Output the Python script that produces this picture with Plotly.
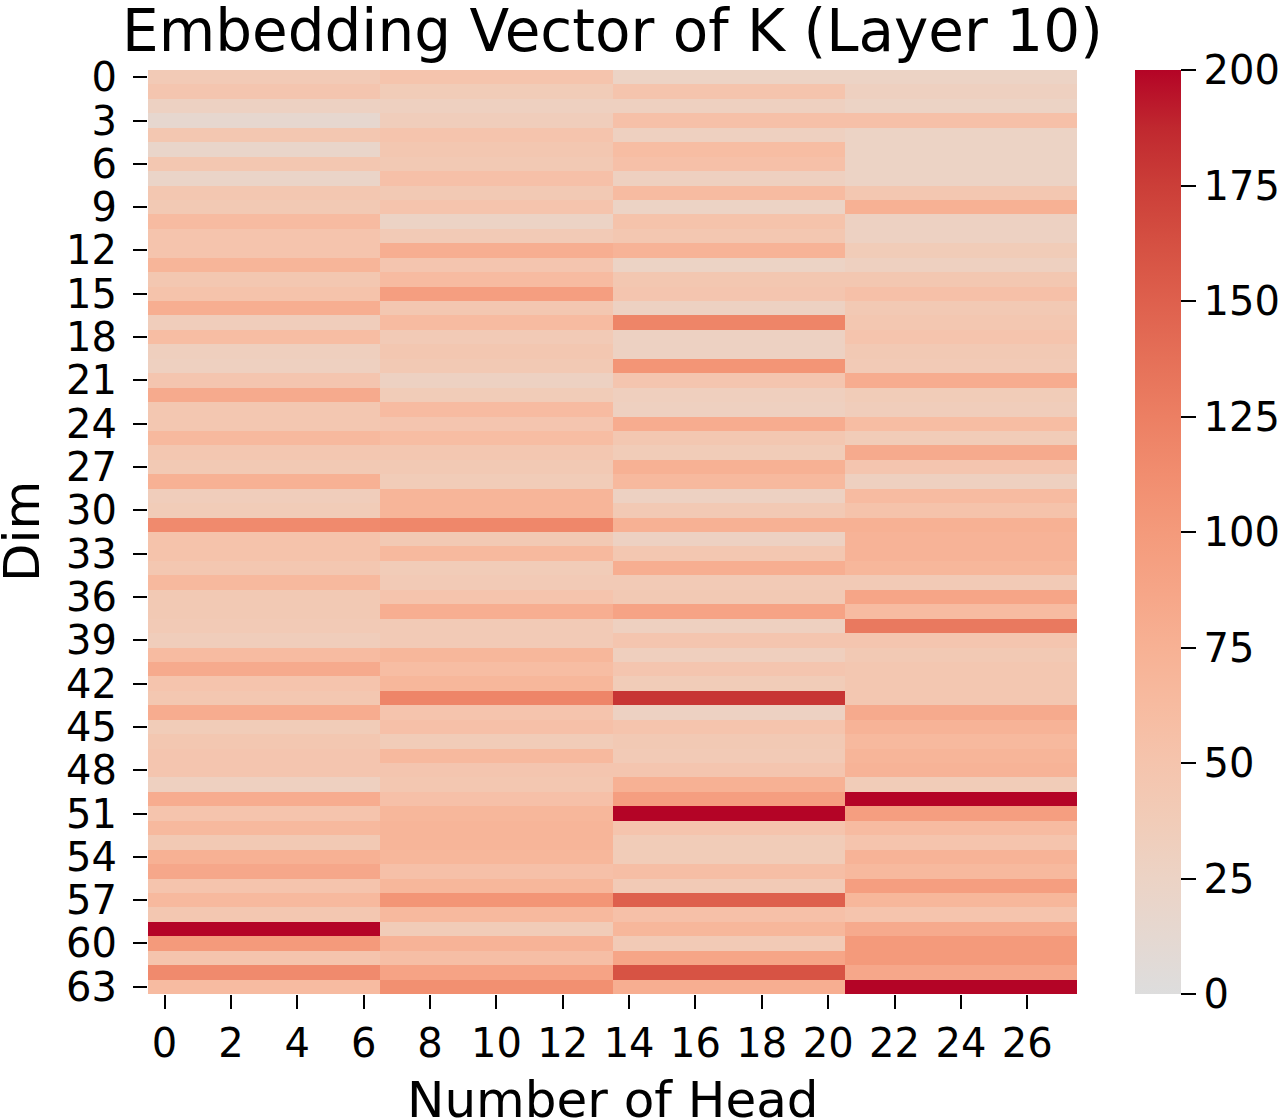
import plotly.graph_objects as go

# Values per KV-head group (each group spans 7 heads), per dim 0..63
group0 = [40, 48, 28, 15, 45, 20, 45, 22, 45, 42, 62, 50, 50, 70, 45, 52,
          78, 35, 60, 32, 30, 48, 82, 45, 45, 65, 45, 42, 75, 35, 38, 115,
          52, 52, 45, 65, 42, 42, 40, 35, 62, 82, 50, 45, 80, 38, 45, 48,
          48, 30, 80, 50, 65, 42, 75, 85, 50, 65, 45, 210, 100, 50, 115, 62]
group1 = [50, 38, 30, 35, 50, 45, 42, 55, 42, 50, 25, 40, 78, 48, 62, 95,
          45, 62, 40, 45, 42, 28, 38, 62, 48, 60, 45, 42, 38, 70, 70, 118,
          42, 65, 38, 40, 50, 78, 40, 40, 68, 60, 68, 120, 50, 55, 38, 65,
          48, 45, 55, 68, 70, 70, 68, 55, 68, 105, 65, 38, 72, 58, 90, 110]
group2 = [25, 50, 30, 55, 30, 60, 55, 30, 62, 25, 52, 45, 72, 25, 45, 48,
          28, 120, 28, 28, 105, 48, 32, 30, 80, 45, 38, 75, 65, 28, 42, 75,
          28, 45, 78, 40, 42, 90, 30, 48, 32, 48, 38, 180, 28, 50, 42, 40,
          48, 75, 95, 210, 50, 38, 38, 58, 40, 150, 55, 68, 40, 88, 160, 78]
group3 = [25, 30, 25, 55, 25, 25, 25, 25, 45, 75, 28, 28, 38, 30, 45, 55,
          42, 45, 50, 42, 40, 80, 38, 35, 60, 38, 82, 48, 30, 62, 52, 75,
          72, 72, 68, 40, 88, 62, 130, 48, 42, 45, 45, 45, 82, 72, 65, 70,
          72, 38, 205, 95, 62, 50, 72, 65, 95, 68, 50, 82, 100, 100, 85, 210]

heads_per_group = 7
n_heads = 28
n_dims = 64
x_ticks = list(range(0, 27, 2))
y_ticks = list(range(0, 64, 3))
cbar_ticks = [0, 25, 50, 75, 100, 125, 150, 175, 200]

z = []
for d in range(n_dims):
    row = ([group0[d]] * heads_per_group + [group1[d]] * heads_per_group +
           [group2[d]] * heads_per_group + [group3[d]] * heads_per_group)
    z.append(row)

# upper half of matplotlib "coolwarm"
cw = [(221, 221, 221), (229, 216, 209), (236, 211, 197), (241, 204, 184),
      (245, 196, 173), (247, 187, 160), (247, 177, 148), (246, 165, 135),
      (244, 154, 123), (241, 141, 111), (236, 127, 99), (229, 112, 88),
      (222, 96, 77), (213, 80, 66), (203, 62, 56), (192, 40, 47), (180, 4, 38)]
colorscale = [[i / (len(cw) - 1), "rgb(%d,%d,%d)" % c] for i, c in enumerate(cw)]

font = "DejaVu Sans"
W, H = 1288, 1120
L, R, T, B = 148, 211, 70, 126
pw, ph = W - L - R, H - T - B

fig = go.Figure(go.Heatmap(
    z=z, x=list(range(n_heads)), y=list(range(n_dims)),
    zmin=0, zmax=200, colorscale=colorscale,
    colorbar=dict(
        x=1135 / W, xanchor="left", xref="container", xpad=0, ypad=0,
        y=0.5, yanchor="middle", yref="paper",
        len=1.0, lenmode="fraction", thickness=46, thicknessmode="pixels",
        outlinewidth=0, tickvals=cbar_ticks, ticks="outside", ticklen=15,
        tickwidth=2, tickcolor="black",
        tickfont=dict(family=font, size=40, color="black"),
    ),
))

fig.update_layout(
    width=W, height=H,
    margin=dict(l=L, r=R, t=T, b=B),
    paper_bgcolor="white", plot_bgcolor="white",
    title=dict(text="Embedding Vector of K (Layer 10)", x=0.4755, xanchor="center",
               y=1 - 31 / H, yanchor="middle",
               font=dict(family=font, size=58, color="black")),
    font=dict(family=font, color="black"),
    annotations=[
        dict(text="Number of Head", xref="paper", yref="paper",
             x=0.5, y=-(1100 - (T + ph)) / ph, xanchor="center", yanchor="middle",
             showarrow=False, font=dict(family=font, size=50, color="black")),
        dict(text="Dim", xref="paper", yref="paper", textangle=-90,
             x=-(L - 22) / pw, y=0.5, xanchor="center", yanchor="middle",
             showarrow=False, font=dict(family=font, size=50, color="black")),
    ],
)
fig.update_xaxes(
    range=[-0.5, 27.5], tickvals=x_ticks, ticktext=[str(v) for v in x_ticks],
    ticks="outside", ticklen=14, tickwidth=2, tickcolor="black",
    ticklabelstandoff=0, automargin=False,
    tickfont=dict(family=font, size=40, color="black"),
    showgrid=False, zeroline=False, showline=False,
)
fig.update_yaxes(
    range=[63.5, -0.5], tickvals=y_ticks, ticktext=[str(v) for v in y_ticks],
    ticks="outside", ticklen=14, tickwidth=2, tickcolor="black",
    ticklabelstandoff=8, automargin=False,
    tickfont=dict(family=font, size=40, color="black"),
    showgrid=False, zeroline=False, showline=False,
)

fig.write_html("out.html")
